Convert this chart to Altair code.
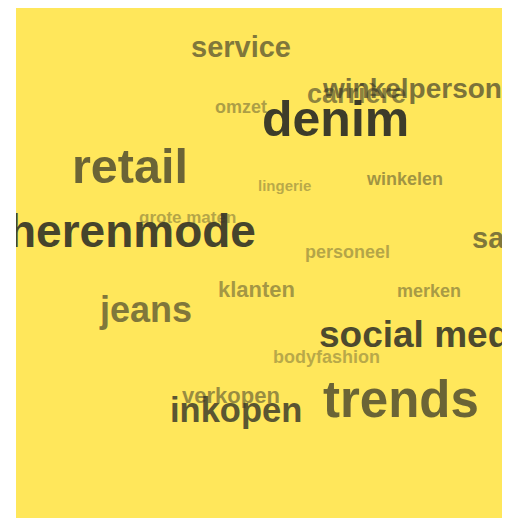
import altair as alt
import pandas as pd

# Word cloud data
words = ["grote maten", "lingerie", "bodyfashion", "personeel", "omzet", "merken",
         "klanten", "winkelen", "verkopen", "carrière", "sales", "jeans", "service",
         "winkelpersoneel", "inkopen", "retail", "trends", "social media",
         "herenmode", "denim"]
# left edge / baseline positions in the cloud layout (pixels of the cloud box)
pos_x = [123, 242, 257, 289, 199, 381, 202, 351, 166, 291, 456, 84, 175,
         307, 154, 56, 307, 303, -8, 246]
pos_y = [215, 183, 355, 250, 105, 289, 289, 177, 395, 95, 240, 314, 49,
         90, 414, 175, 409, 339, 239, 128]
# word weight (font size) and emphasis
weight = [17, 15, 18, 18, 18, 18, 22, 18, 22, 27, 29, 36, 29, 28, 34.5, 48.5, 51, 37, 46, 50]
emphasis = [0.36, 0.34, 0.34, 0.36, 0.4, 0.42, 0.44, 0.46, 0.5, 0.55, 0.62, 0.62,
            0.62, 0.64, 0.8, 0.72, 0.72, 0.87, 0.9, 0.95]

df = pd.DataFrame({"word": words, "x": pos_x, "y": pos_y,
                   "weight": weight, "emphasis": emphasis})

W, H = 486, 510

chart = alt.Chart(df).mark_text(
    align="left", baseline="alphabetic", font="Liberation Sans",
    fontWeight="bold", color="#333328", clip=True
).encode(
    x=alt.X("x:Q", scale=alt.Scale(domain=[0, W], nice=False, zero=False), axis=None),
    y=alt.Y("y:Q", scale=alt.Scale(domain=[0, H], nice=False, zero=False, reverse=True), axis=None),
    size=alt.Size("weight:Q", scale=None, legend=None),
    opacity=alt.Opacity("emphasis:Q", scale=None, legend=None),
    text="word:N",
).properties(
    width=W, height=H,
    padding={"left": 8, "top": 0, "right": 2, "bottom": 0},
    autosize=alt.AutoSizeParams(type="none"),
    background="white",
).configure_view(fill="#FFE75B", stroke=None)

chart.save("out.html", embed_options={"renderer": "svg", "actions": False})
